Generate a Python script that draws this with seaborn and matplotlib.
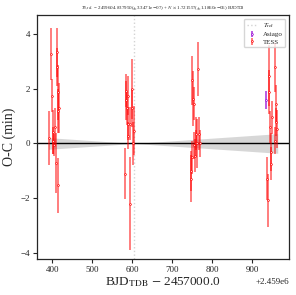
import matplotlib
matplotlib.use("Agg")
import matplotlib.pyplot as plt
import seaborn as sns
import numpy as np
import pandas as pd

# TESS timings (BJD_TDB - 2459000), O-C (min), error (min)
tess_x = [393, 398, 400, 402, 403, 405, 407.5, 409, 411, 411.5, 414, 414.5, 415, 418,
          583, 584, 585.5, 587, 589, 590, 591, 594, 596, 599, 601, 603, 605,
          746.7, 748, 750, 751, 752.5, 754, 755.8, 757.5, 759, 761, 763, 766, 768, 770,
          938, 940, 941.7, 943, 945, 946.7, 948, 950, 957.5, 958, 959, 961, 962.5]
tess_y = [0.2, 3.27, 1.75, 0.41, 0.1, -0.07, 0.6, -0.72, 3.33, 2.8, 1.87, 1.2, -1.53, 1.3,
          -1.1, 1.93, 1.57, 1.28, 1.75, 0.72, 0.29, -2.2, 0.72, 2.0, 1.3, 0.0, 0.47,
          -0.99, -1.28, -0.5, 2.3, 1.63, 1.45, -0.07, -0.44, 0.0, 0.35, 0.0, 2.72, 0.35, 0.0,
          -1.28, -2.08, 2.48, 1.87, 0.6, -0.32, -0.74, 0.96, 2.78, 0.1, 1.45, 0.78, 0.53]
tess_err = [1.0, 0.95, 0.6, 0.8, 0.5, 0.4, 0.7, 1.1, 0.9, 0.7, 1.0, 0.8, 1.0, 0.9,
            0.92, 0.6, 0.7, 0.6, 0.7, 0.6, 0.5, 1.7, 0.6, 1.1, 0.7, 0.8, 0.9,
            0.73, 0.85, 0.6, 0.9, 1.0, 0.6, 0.5, 0.6, 0.5, 0.6, 0.9, 1.0, 0.6, 0.5,
            0.8, 0.97, 1.1, 0.8, 0.6, 0.7, 0.6, 0.6, 0.9, 0.5, 0.7, 0.5, 0.7]
# Asiago timing
asiago_x = [935]
asiago_y = [1.6]
asiago_err = [0.33]

T0_ref = 604.837950
P = 1.721557
sigT0 = 3.3471e-07
sigP = 1.1860e-06
offset = 2459000.0

sns.set_style("ticks")
plt.rcParams['font.family'] = ['Liberation Serif', 'DejaVu Serif']
plt.rcParams['mathtext.fontset'] = 'stix'

fig = plt.figure(figsize=(2.96, 2.95), dpi=100)
ax = fig.add_axes([0.125, 0.122, 0.851, 0.827])

tx = np.array(tess_x) + offset
ax.errorbar(tx, tess_y, yerr=tess_err, fmt='.', color='red', ms=2.5, mfc='white', mec='red',
            mew=0.5, ecolor=(1, 0, 0, 0.55), elinewidth=1.3, label='TESS', zorder=3)
ax.errorbar(np.array(asiago_x) + offset, asiago_y, yerr=asiago_err, fmt='.', color='darkviolet',
            ms=2.5, mfc='white', mec='darkviolet', mew=0.5, ecolor=(0.58, 0, 0.83, 0.7),
            elinewidth=1.3, label='Asiago', zorder=3)

# uncertainty fan of the ephemeris
allx = np.concatenate([tess_x, asiago_x])
xs = np.linspace(allx.min() - 2, allx.max() + 2, 200)
N = (xs - T0_ref) / P
sig = np.sqrt(sigT0**2 + (N * sigP)**2) * 24 * 60
ax.fill_between(xs + offset, -sig, sig, color='lightgray', alpha=0.9, lw=0, zorder=1)

ax.axhline(0, color='black', lw=1, zorder=2)
ax.axvline(T0_ref + offset, color='lightgray', ls=':', lw=1, label=r'$T_{\rm ref}$', zorder=1)

ax.set_xlim(362 + offset, 992.5 + offset)
ax.set_ylim(-4.22, 4.69)
ax.set_yticks([-4, -2, 0, 2, 4])
ax.set_xticks(np.arange(400, 901, 100) + offset)
ax.tick_params(labelsize=6.5, length=3, width=0.8, pad=2)
for s in ax.spines.values():
    s.set_linewidth(0.9)
ax.xaxis.get_offset_text().set_fontsize(6.5)

ax.set_ylabel('O-C (min)', fontsize=10, labelpad=3)
ax.set_xlabel(r'BJD$_{\rm TDB}$ $-$ 2457000.0', fontsize=9.5, labelpad=1)
ax.set_title(r'$T_{0,{\rm ref.}}$ = 2459604.837950($\pm$3.3471e$-$07) + $N$ $\times$ 1.721557($\pm$1.1860e$-$06) BJD$_{\rm TDB}$',
             fontsize=3.6, pad=4)

h, l = ax.get_legend_handles_labels()
order = [l.index(r'$T_{\rm ref}$'), l.index('Asiago'), l.index('TESS')]
ax.legend([h[i] for i in order], [l[i] for i in order], loc='upper right', fontsize=5,
          frameon=True, borderpad=0.4, handlelength=1.5, labelspacing=0.2)

fig.savefig('out.png', dpi=100)
